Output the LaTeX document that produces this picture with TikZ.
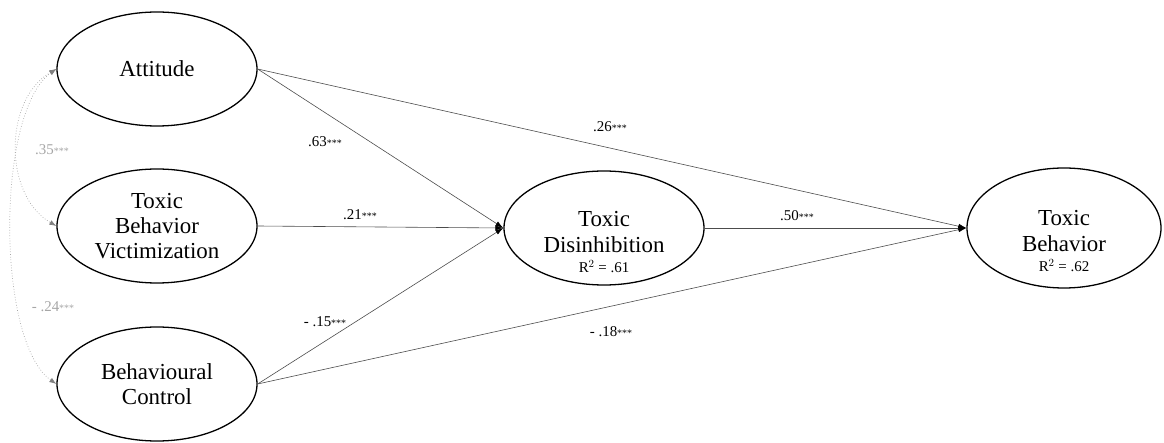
\documentclass[tikz,border=0pt]{standalone}
\usepackage{fontspec}
\setmainfont{Liberation Serif}
\usepackage{tikz}
\usetikzlibrary{arrows.meta,shapes.geometric,positioning}

\newcommand{\sig}{{\fontsize{10}{10}\selectfont ***}}
\tikzset{
	latent/.style={draw=black, line width=1.3pt, ellipse, inner sep=0pt,
		minimum width=200bp, minimum height=114bp, align=center,
		font=\fontsize{23}{25}\selectfont},
	lvtext/.style={align=center, inner sep=0pt, font=\fontsize{23}{27}\selectfont},
	reg/.style={draw=black!70, line width=0.6pt, -{Latex[length=8bp,width=5bp,black]}},
	cov/.style={draw=black!35, line width=0.7pt, dotted,
		{Latex[length=7bp,width=5bp,black!50]}-{Latex[length=7bp,width=5bp,black!50]}},
	coef/.style={inner sep=1pt, font=\fontsize{15}{17}\selectfont},
	covcoef/.style={coef, text=black!35}
}

\begin{document}
\begin{tikzpicture}[x=1bp,y=-1bp]
			\useasboundingbox (0,0) rectangle (1164,443);
			
			% latent variables
			\node [latent] (att) at (157,69) {Attitude};
			\node [latent] (vic) at (157,226) {Toxic\\Behavior\\Victimization};
			\node [latent] (ctl) at (157,384) {Behavioural\\Control};
			
			\node [latent] (dis) at (604,228) {};
			\node [lvtext] (distext) at ([yshift=-14bp]dis.center) {Toxic\\Disinhibition\\[-7pt]{\fontsize{15}{17}\selectfont R$^{2}$ = .61}};
			
			\node [latent, minimum width=194bp, minimum height=120bp] (beh) at (1064,228) {};
			\node [lvtext] (behtext) at ([yshift=-13bp]beh.center) {Toxic\\Behavior\\[-7pt]{\fontsize{15}{17}\selectfont R$^{2}$ = .62}};
			
			% paths
			\draw [reg] (att.east) -- (dis.west);
			\draw [reg] (att.east) -- (beh.west);
			\draw [reg] (vic.east) -- (dis.west);
			\draw [reg] (ctl.east) -- (dis.west);
			\draw [reg] (ctl.east) -- (beh.west);
			\draw [reg] (dis.east) -- (beh.west);
			
			% covariances
			\draw [cov] (att.west) to[out=210,in=150] (vic.west);
			\draw [cov] (att.west) to[out=215,in=145,looseness=0.6] (ctl.west);
			
			% coefficients
			\node [coef] (c63) at (325,142) {.63\sig};
			\node [coef] (c21) at (360,215) {.21\sig};
			\node [coef] (c26) at (610,127) {.26\sig};
			\node [coef] (c50) at (797,216) {.50\sig};
			\node [coef] (c15) at (325,322) {- .15\sig};
			\node [coef] (c18) at (611,332) {- .18\sig};
			\node [covcoef] (c35) at (52,150) {.35\sig};
			\node [covcoef] (c24) at (53,307) {- .24\sig};
			
\end{tikzpicture}
\end{document}
